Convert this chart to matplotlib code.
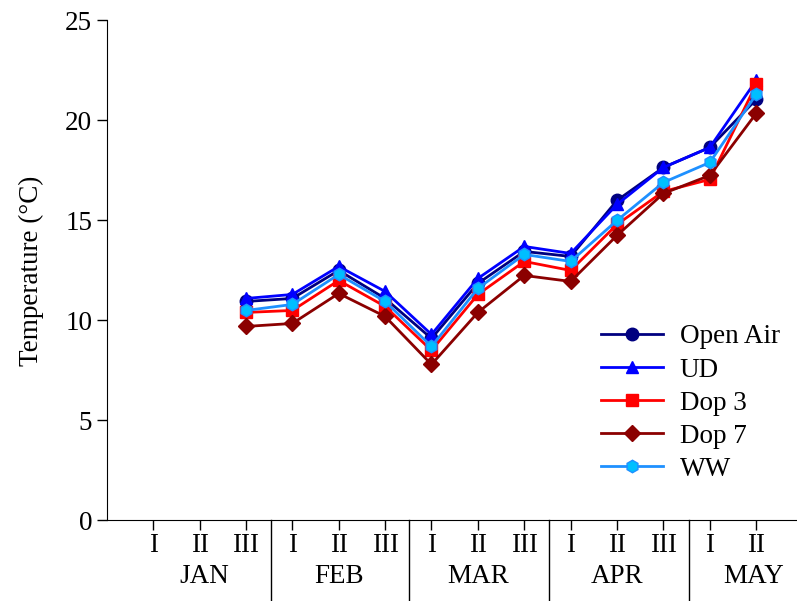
import matplotlib.pyplot as plt
from matplotlib.transforms import blended_transform_factory

plt.rcParams['font.family'] = ['Liberation Serif', 'DejaVu Serif']

# ten-day periods, JAN III .. MAY II
periods = ['I', 'II', 'III'] * 4 + ['I', 'II']
months = ['JAN', 'FEB', 'MAR', 'APR', 'MAY']
month_pos = [2.1, 5.0, 8.0, 11.0, 13.95]
month_breaks = [3.53, 6.52, 9.54, 12.55]

x = list(range(3, 15))
open_air = [10.95, 11.1, 12.5, 11.1, 9.1, 11.85, 13.45, 13.2, 16.0, 17.65, 18.65, 21.05]
ud = [11.1, 11.3, 12.7, 11.45, 9.3, 12.1, 13.7, 13.35, 15.8, 17.65, 18.65, 22.0]
dop3 = [10.4, 10.5, 12.0, 10.7, 8.5, 11.3, 12.95, 12.5, 14.8, 16.45, 17.05, 21.8]
dop7 = [9.7, 9.85, 11.35, 10.2, 7.8, 10.4, 12.25, 11.95, 14.25, 16.35, 17.25, 20.35]
ww = [10.5, 10.8, 12.3, 10.95, 8.7, 11.6, 13.3, 12.95, 15.0, 16.9, 17.9, 21.3]

fs = 19.5

fig = plt.figure(figsize=(7.97, 6.01), dpi=100)
ax = fig.add_axes([0.134, 0.134, 0.866, 0.832])

ax.plot(x, open_air, color='#000080', marker='o', ms=9, lw=2, label='Open Air')
ax.plot(x, ud, color='#0000FF', marker='^', ms=9, lw=2, label='UD')
ax.plot(x, dop3, color='#FF0000', marker='s', ms=8, lw=2, label='Dop 3')
ax.plot(x, dop7, color='#8B0000', marker='D', ms=8, lw=2, label='Dop 7')
ax.plot(x, ww, color='#1E90FF', marker='h', ms=9, lw=2, mfc='#00BFFF',
        mec='#1E90FF', label='WW')

ax.set_xlim(0, 14.88)
ax.set_ylim(0, 25)
ax.set_yticks(range(0, 26, 5))
ax.set_xticks(range(1, 15))
ax.set_xticklabels(periods)
ax.tick_params(axis='both', labelsize=fs, direction='out', length=7, width=1)
ax.tick_params(axis='x', pad=2)
ax.set_ylabel('Temperature (°C)', fontsize=fs, labelpad=15)

ax.spines['top'].set_visible(False)
ax.spines['right'].set_visible(False)

trans = blended_transform_factory(ax.transData, ax.transAxes)
for m, p in zip(months, month_pos):
    ax.text(p, -0.113, m, transform=trans, ha='center', va='center', fontsize=fs)
for b in month_breaks:
    ax.plot([b, b], [0, -0.17], transform=trans, color='black', lw=1, clip_on=False)

ax.legend(loc='lower right', bbox_to_anchor=(0.975, 0.077), frameon=False,
          fontsize=fs, handlelength=2.3, handletextpad=0.6, labelspacing=0.3,
          borderpad=0, borderaxespad=0)

plt.savefig('out.png', dpi=100)
